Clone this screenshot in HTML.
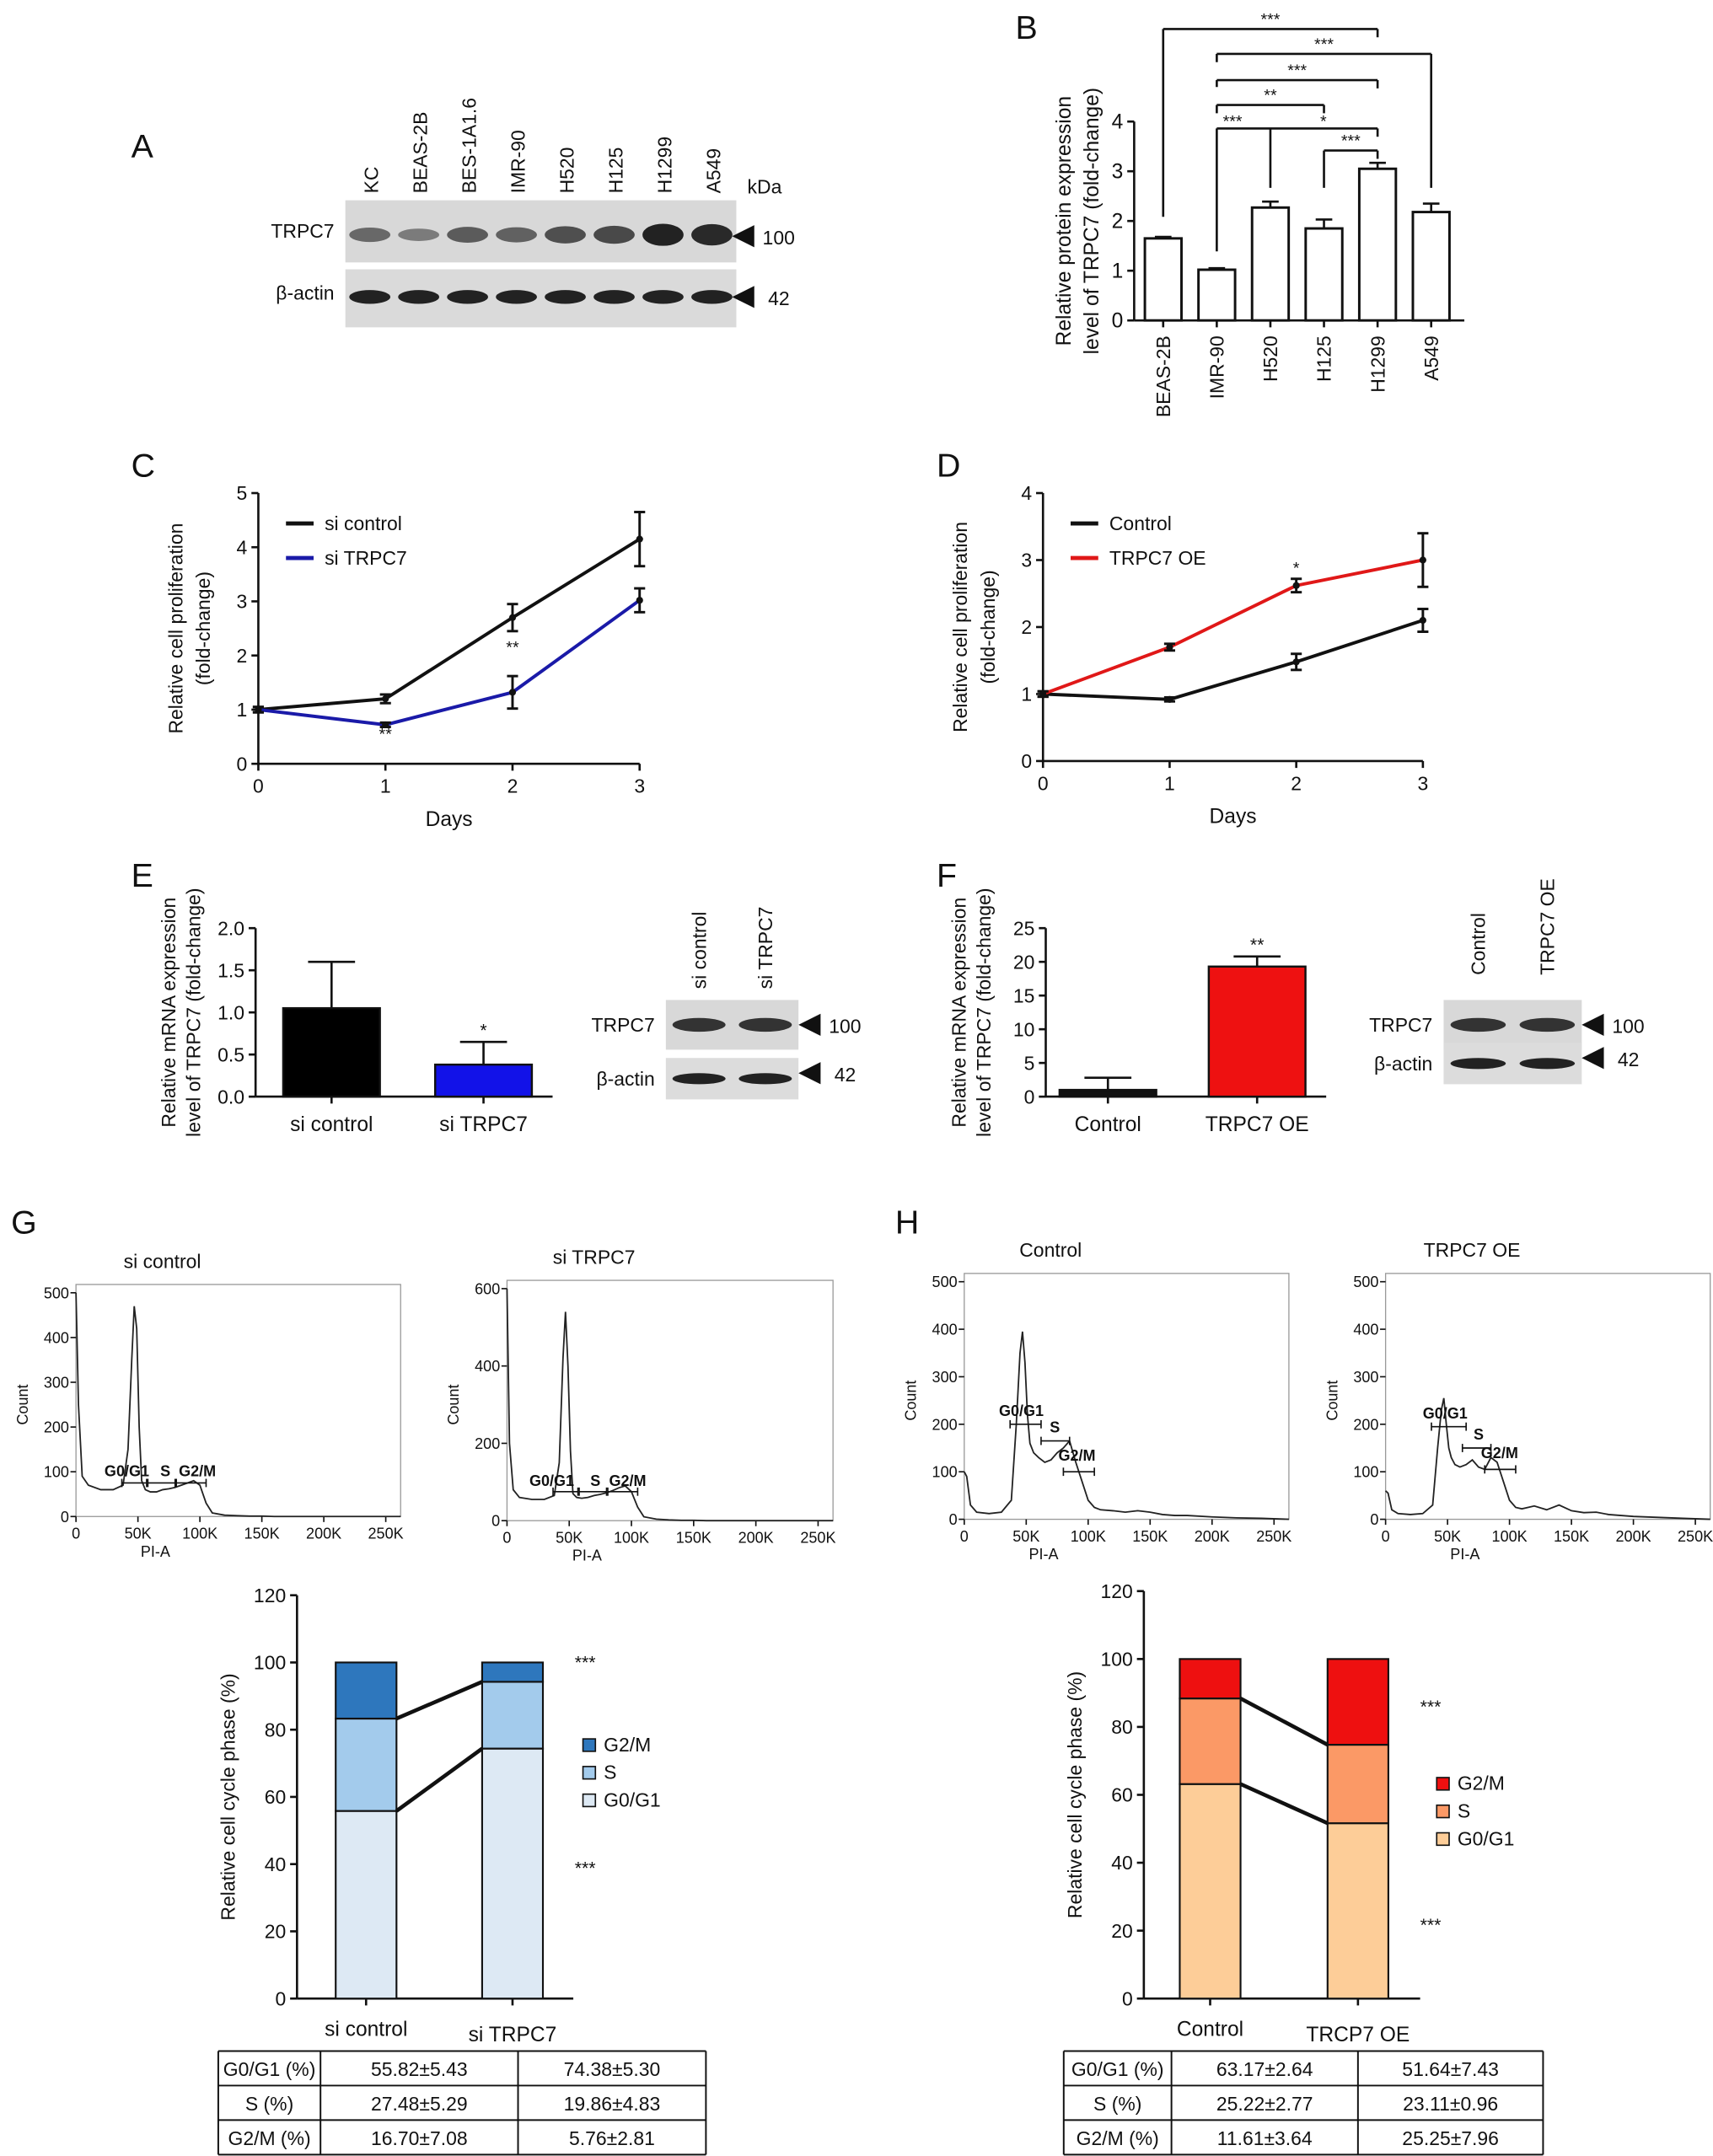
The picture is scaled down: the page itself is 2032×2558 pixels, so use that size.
<!DOCTYPE html>
<html><head><meta charset="utf-8"><style>
html,body{margin:0;padding:0;background:#fff}
svg{display:block;font-family:"Liberation Sans",sans-serif}
</style></head><body>
<svg id="fig" width="2032" height="2558" viewBox="0 0 1240 1561" xmlns="http://www.w3.org/2000/svg">
<rect width="1240" height="1561" fill="#fff"/>
<g font-size="24" fill="#111">
<text x="95" y="114">A</text>
<text x="735" y="28">B</text>
<text x="95" y="345">C</text>
<text x="678" y="345">D</text>
<text x="95" y="642">E</text>
<text x="678" y="642">F</text>
<text x="8" y="893">G</text>
<text x="648" y="893">H</text>
</g>
<g id="root"></g>
</svg>
<script>
// ---------- DATA ----------
const blotLanesA = ["KC","BEAS-2B","BES-1A1.6","IMR-90","H520","H125","H1299","A549"];
const blotIntensityA = [0.45,0.3,0.55,0.5,0.65,0.7,1.0,0.95];
const catsB = ["BEAS-2B","IMR-90","H520","H125","H1299","A549"];
const valsB = [1.65,1.02,2.27,1.85,3.05,2.18];
const errB = [0.03,0.03,0.12,0.18,0.12,0.17];
const ticksB = [0,1,2,3,4];
const daysC = [0,1,2,3];
const siControlC = [1.0,1.2,2.7,4.15];
const siControlErrC = [0.05,0.08,0.25,0.5];
const siTrpc7C = [1.0,0.72,1.32,3.02];
const siTrpc7ErrC = [0.05,0.04,0.3,0.22];
const ticksC = [0,1,2,3,4,5];
const controlD = [1.0,0.92,1.48,2.1];
const controlErrD = [0.04,0.03,0.12,0.17];
const oeD = [1.0,1.7,2.62,3.0];
const oeErrD = [0.04,0.05,0.1,0.4];
const ticksD = [0,1,2,3,4];
const catsE = ["si control","si TRPC7"];
const valsE = [1.05,0.38];
const errE = [0.55,0.27];
const ticksE = [0,0.5,1.0,1.5,2.0];
const catsF = ["Control","TRPC7 OE"];
const valsF = [1.0,19.3];
const errF = [1.8,1.5];
const ticksF = [0,5,10,15,20,25];
const histXTicks = ["0","50K","100K","150K","200K","250K"];
const histPIx = [0,2,5,10,20,30,38,42,45,47,49,51,53,56,60,65,70,75,80,85,90,95,100,105,110,120,130,140,150,160,170,180,200,220,240,262];
const histSiControl = [500,250,90,70,60,60,70,150,350,470,420,200,80,60,55,55,60,62,65,70,75,80,70,30,8,3,2,1,1,0,0,0,0,0,0,0];
const histSiTrpc7 = [600,200,80,60,55,55,65,150,420,540,400,180,70,60,58,60,65,68,72,78,85,90,75,35,10,4,2,1,1,0,0,0,0,0,0,0];
const histControl = [100,90,30,15,12,15,40,200,350,395,330,220,160,140,130,120,125,140,150,165,120,80,40,25,20,18,15,18,15,10,8,8,5,3,2,0];
const histOE = [60,55,20,12,10,12,30,150,230,255,200,150,130,115,110,115,125,110,105,130,120,80,40,25,22,28,20,30,18,14,15,10,6,4,2,0];
const ticksHistG1 = [0,100,200,300,400,500];
const ticksHistG2 = [0,200,400,600];
const ticksHistH = [0,100,200,300,400,500];
const phasesG = ["G0/G1","S","G2/M"];
const g0g1G = [55.82,74.38];
const sG = [27.48,19.86];
const g2mG = [16.70,5.76];
const catsG = ["si control","si TRPC7"];
const g0g1H = [63.17,51.64];
const sH = [25.22,23.11];
const g2mH = [11.61,25.25];
const catsH = ["Control","TRCP7 OE"];
const ticksStack = [0,20,40,60,80,100,120];
const tableG = [["G0/G1 (%)","55.82±5.43","74.38±5.30"],["S (%)","27.48±5.29","19.86±4.83"],["G2/M (%)","16.70±7.08","5.76±2.81"]];
const tableH = [["G0/G1 (%)","63.17±2.64","51.64±7.43"],["S (%)","25.22±2.77","23.11±0.96"],["G2/M (%)","11.61±3.64","25.25±7.96"]];

// ---------- HELPERS ----------
const NS="http://www.w3.org/2000/svg";
const root=document.getElementById('root');
function el(tag,attrs,parent,txt){const e=document.createElementNS(NS,tag);for(const k in attrs)e.setAttribute(k,attrs[k]);if(txt!==undefined)e.textContent=txt;(parent||root).appendChild(e);return e;}
function line(x1,y1,x2,y2,p,w,c){return el('line',{x1,y1,x2,y2,stroke:c||'#111','stroke-width':w||1.6},p);}
function txt(x,y,s,size,p,anchor,rot){const a={x,y,'font-size':size||13,fill:'#111','text-anchor':anchor||'middle'};if(rot)a.transform=`rotate(${rot} ${x} ${y})`;return el('text',a,p,s);}
function grp(name){const g=el('g',{});return g;}
function yAxis(g,x,y0,y1,ticks,sc,fmt,size){line(x,y0,x,y1,g);ticks.forEach(t=>{const y=sc(t);line(x-5,y,x,y,g);txt(x-8,y+5,fmt?fmt(t):String(t),size||14,g,'end');});}

// ---------- PANEL A ----------
(function(){
 const g=grp('blot-panel-a');
 const x0=250,x1=533,lw=(x1-x0)/blotLanesA.length;
 el('rect',{x:x0,y:145,width:x1-x0,height:45,fill:'#d8d8d8'},g);
 el('rect',{x:x0,y:195,width:x1-x0,height:42,fill:'#dadada'},g);
 blotLanesA.forEach((n,i)=>{const cx=x0+lw*(i+0.5);
  const t=txt(cx+6,140,n,14,g,'start',-90);
  const b=el('ellipse',{cx,cy:170,rx:lw*0.42,ry:3+5*blotIntensityA[i],fill:'#222','fill-opacity':0.3+0.7*blotIntensityA[i]},g);
  
  const a=el('ellipse',{cx,cy:215,rx:lw*0.42,ry:5,fill:'#222'},g);
  
 });
 txt(242,172,'TRPC7',14,g,'end');txt(242,217,'β-actin',14,g,'end');txt(541,140,'kDa',14,g,'start');
 el('polygon',{points:'530,171 546,163 546,179',fill:'#111'},g);txt(552,177,'100',14,g,'start');
 el('polygon',{points:'530,215 546,207 546,223',fill:'#111'},g);txt(556,221,'42',14,g,'start');
})();

// ---------- PANEL B ----------
(function(){
 const g=grp('bar-chart-b');
 const y=v=>232-v*36, xs=i=>842+i*38.8, w=26.5;
 yAxis(g,821,232,88,ticksB,y,null,15);line(821,232,1060,232,g);
 catsB.forEach((c,i)=>{const cx=xs(i);line(cx,232,cx,237,g);
  const t=txt(cx+5,243,c,14,g,'end',-90);
  const r=el('rect',{x:cx-w/2,y:y(valsB[i]),width:w,height:valsB[i]*36,fill:'#fff',stroke:'#111','stroke-width':1.8},g);
  
  line(cx,y(valsB[i]),cx,y(valsB[i]+errB[i]),g);line(cx-6,y(valsB[i]+errB[i]),cx+6,y(valsB[i]+errB[i]),g);
 });
 const br=(a,b,yy,ya,yb,s,sx)=>{line(xs(a),yy,xs(b),yy,g);line(xs(a),yy,xs(a),ya,g);line(xs(b),yy,xs(b),yb,g);txt(sx||(xs(a)+xs(b))/2,yy-3,s,12,g);};
 br(0,4,21,157,27,'***');br(1,5,39,45,136,'***');br(1,4,58,63,64,'***');br(1,3,76,82,82,'**');
 line(xs(1),93,xs(4),93,g);line(xs(1),93,xs(1),182,g);line(xs(2),93,xs(2),136,g);line(xs(4),93,xs(4),99,g);
 txt((xs(1)+xs(2))/2-8,92,'***',12,g);txt(958,92,'*',12,g);
 br(3,4,109,136,115,'***');
 txt(775,160,'Relative protein expression',15,g,'middle',-90);txt(795,160,'level of TRPC7 (fold-change)',15,g,'middle',-90);
})();

// ---------- LINE CHARTS ----------
function lineChart(name,x0,x1,yb,yt,ymax,ticks,series,legend,stars){
 const g=grp(name);
 const x=d=>x0+d*(x1-x0)/3, y=v=>yb-v*(yb-yt)/ymax;
 yAxis(g,x0,yb,yt,ticks,y,null,14);line(x0,yb,x1,yb,g);
 daysC.forEach(d=>{line(x(d),yb,x(d),yb+5,g);txt(x(d),yb+21,String(d),14,g);});
 txt((x0+x1)/2,yb+45,'Days',15,g);
 series.forEach(s=>{
  const p=el('polyline',{points:daysC.map((d,i)=>x(d)+','+y(s.v[i])).join(' '),fill:'none',stroke:s.c,'stroke-width':2.4},g);
  
  daysC.forEach((d,i)=>{const a=y(s.v[i]-s.e[i]),b=y(s.v[i]+s.e[i]);line(x(d),a,x(d),b,g,1.8);line(x(d)-4,a,x(d)+4,a,g,1.8);line(x(d)-4,b,x(d)+4,b,g,1.8);
   el('circle',{cx:x(d),cy:y(s.v[i]),r:2.5,fill:'#111'},g);});
 });
 legend.forEach((l,i)=>{line(x0+20,yt+22+i*25,x0+40,yt+22+i*25,g,3,l.c);txt(x0+48,yt+27+i*25,l.n,14,g,'start');});
 stars.forEach(s=>txt(x(s.d),y(s.v),s.s,12,g));
 txt(x0-55,(yb+yt)/2,'Relative cell proliferation',14,g,'middle',-90);txt(x0-35,(yb+yt)/2,'(fold-change)',14,g,'middle',-90);
}
lineChart('line-chart-c',187,463,553,357,5,ticksC,[{n:'line-si-control',c:'#111',v:siControlC,e:siControlErrC},{n:'line-si-trpc7',c:'#1a1aa8',v:siTrpc7C,e:siTrpc7ErrC}],[{n:'si control',c:'#111'},{n:'si TRPC7',c:'#1a1aa8'}],[{d:1,v:0.45,s:'**'},{d:2,v:2.05,s:'**'}]);
lineChart('line-chart-d',755,1030,551,357,4,ticksD,[{n:'line-control',c:'#111',v:controlD,e:controlErrD},{n:'line-trpc7-oe',c:'#e01818',v:oeD,e:oeErrD}],[{n:'Control',c:'#111'},{n:'TRPC7 OE',c:'#e01818'}],[{d:2,v:2.8,s:'*'}]);

// ---------- PANELS E/F ----------
function smallBar(name,ax,x1,cats,vals,errs,ticks,max,cols,centers,star,fmt){
 const g=grp(name);const yb=794,yt=672,y=v=>yb-v*(yb-yt)/max;
 yAxis(g,ax,yb,yt,ticks,y,fmt,14);line(ax,yb,x1,yb,g);
 cats.forEach((c,i)=>{const cx=centers[i];
  line(cx,y(vals[i]),cx,y(vals[i]+errs[i]),g);line(cx-17,y(vals[i]+errs[i]),cx+17,y(vals[i]+errs[i]),g);
  const r=el('rect',{x:cx-35,y:y(vals[i]),width:70,height:yb-y(vals[i]),fill:cols[i],stroke:'#111','stroke-width':1.5},g);
  
  line(cx,yb,cx,yb+5,g);txt(cx,yb+25,c,15,g);});
 txt(centers[1],y(vals[1]+errs[1])-4,star,13,g);
 txt(ax-58,733,'Relative mRNA expression',14,g,'middle',-90);txt(ax-40,733,'level of TRPC7 (fold-change)',14,g,'middle',-90);
}
smallBar('bar-chart-e',185,400,catsE,valsE,errE,ticksE,2,['#000','#1212e8'],[240,350],'*',t=>t.toFixed(1));
smallBar('bar-chart-f',757,960,catsF,valsF,errF,ticksF,25,['#111','#ee1111'],[802,910],'**');
function smallBlot(name,x0,x1,lab,y1,y2,labAnchor){
 const g=grp(name);
 el('rect',{x:x0,y:y1-18,width:x1-x0,height:36,fill:'#d8d8d8'},g);
 el('rect',{x:x0,y:y2-15,width:x1-x0,height:30,fill:'#dcdcdc'},g);
 const lw=(x1-x0)/2;
 [0,1].forEach(i=>{const cx=x0+lw*(i+0.5);
  const b=el('ellipse',{cx,cy:y1,rx:lw*0.4,ry:5,fill:'#333'},g);
  const a=el('ellipse',{cx,cy:y2,rx:lw*0.4,ry:4,fill:'#222'},g);
  txt(cx+5,labAnchor,lab[i],14,g,'start',-90);});
 txt(x0-8,y1+5,'TRPC7',14,g,'end');txt(x0-8,y2+5,'β-actin',14,g,'end');
 el('polygon',{points:`${x1},${y1} ${x1+16},${y1-8} ${x1+16},${y1+8}`,fill:'#111'},g);txt(x1+22,y1+6,'100',14,g,'start');
 el('polygon',{points:`${x1},${y2-4} ${x1+16},${y2-12} ${x1+16},${y2+4}`,fill:'#111'},g);txt(x1+26,y2+2,'42',14,g,'start');
}
smallBlot('blot-panel-e',482,578,['si control','si TRPC7'],742,781,716);
smallBlot('blot-panel-f',1045,1145,['Control','TRPC7 OE'],742,770,706);

// ---------- HISTOGRAMS ----------
function hist(name,x0,x1,yb,yt,ymax,ticks,data,title,gates){
 const g=grp(name);
 const x=v=>x0+v*(x1-x0)/262, y=v=>yb-Math.min(v,ymax)*(yb-yt)/ymax;
 el('rect',{x:x0,y:yt-6,width:x1-x0,height:yb-yt+6,fill:'none',stroke:'#999','stroke-width':0.8},g);
 ticks.forEach(t=>{line(x0-4,y(t),x0,y(t),g,1);txt(x0-5,y(t)+4,String(t),11,g,'end');});
 histXTicks.forEach((s,i)=>{const xx=x(i*50);line(xx,yb,xx,yb+4,g,1);txt(xx,yb+16,s,11,g);});
 txt((x0+x1)/2-60,yb+29,'PI-A',11,g);txt(x0-35,(yb+yt)/2,'Count',11,g,'middle',-90);
 txt((x0+x1)/2-55,yt-18,title,14,g);
 const p=el('polyline',{points:histPIx.map((v,i)=>x(v)+','+y(data[i])).join(' '),fill:'none',stroke:'#222','stroke-width':1.1},g);
 
 gates.forEach(gt=>{const yy=y(gt.h);line(x(gt.a),yy,x(gt.b),yy,g,1);line(x(gt.a),yy-3,x(gt.a),yy+3,g,1);line(x(gt.b),yy-3,x(gt.b),yy+3,g,1);
  const t=el('text',{x:x(gt.lx),y:yy+gt.ly,'font-size':11,'font-weight':'bold',fill:'#111'},g,gt.s);});
}
hist('histogram-si-control',55,290,1098,936,500,ticksHistG1,histSiControl,'si control',[{a:37,b:57,h:75,s:'G0/G1',lx:23,ly:-5},{a:58,b:80,h:75,s:'S',lx:68,ly:-5},{a:81,b:105,h:75,s:'G2/M',lx:83,ly:-5}]);
hist('histogram-si-trpc7',367,603,1101,933,600,ticksHistG2,histSiTrpc7,'si TRPC7',[{a:37,b:57,h:75,s:'G0/G1',lx:18,ly:-4},{a:58,b:80,h:75,s:'S',lx:67,ly:-4},{a:81,b:105,h:75,s:'G2/M',lx:82,ly:-4}]);
hist('histogram-control',698,933,1100,928,500,ticksHistH,histControl,'Control',[{a:37,b:62,h:200,s:'G0/G1',lx:28,ly:-6},{a:62,b:85,h:165,s:'S',lx:69,ly:-6},{a:80,b:105,h:100,s:'G2/M',lx:76,ly:-8}]);
hist('histogram-trpc7-oe',1003,1238,1100,928,500,ticksHistH,histOE,'TRPC7 OE',[{a:37,b:65,h:195,s:'G0/G1',lx:30,ly:-6},{a:62,b:85,h:150,s:'S',lx:71,ly:-6},{a:80,b:105,h:105,s:'G2/M',lx:77,ly:-8}]);

// ---------- STACKED BARS ----------
function stacked(name,ax,yb,yt,cats,a,b,c,cols,lx,ly,topStar,botStar,xs){
 const g=grp(name);const y=v=>yb-v*(yb-yt)/120;
 yAxis(g,ax,yb,yt,ticksStack,y,null,14);line(ax,yb,ax+200,yb,g);
 const w=44;
 cats.forEach((cn,i)=>{const cx=xs[i];let base=0;
  [[a[i],cols[0],'g0g1'],[b[i],cols[1],'s'],[c[i],cols[2],'g2m']].forEach(([v,col,nm])=>{
   const r=el('rect',{x:cx-w/2,y:y(base+v),width:w,height:y(base)-y(base+v),fill:col,stroke:'#111','stroke-width':1.3},g);
   base+=v;});
  line(cx,yb,cx,yb+5,g);txt(cx,yb+27+(i?4:0),cn,15,g);});
 line(xs[0]+w/2,y(a[0]),xs[1]-w/2,y(a[1]),g,2.8);
 line(xs[0]+w/2,y(a[0]+b[0]),xs[1]-w/2,y(a[1]+b[1]),g,2.8);
 txt(xs[1]+45,topStar,'***',13,g,'start');txt(xs[1]+45,botStar,'***',13,g,'start');
 [['G2/M',cols[2]],['S',cols[1]],['G0/G1',cols[0]]].forEach(([n,col],i)=>{
  const r=el('rect',{x:lx,y:ly+i*20-9,width:9,height:9,fill:col,stroke:'#111','stroke-width':1},g);
  
  txt(lx+15,ly+i*20,n,14,g,'start');});
 txt(ax-45,(yb+yt)/2,'Relative cell cycle phase (%)',14,g,'middle',-90);
}
stacked('stacked-bar-g',215,1447,1155,catsG,g0g1G,sG,g2mG,['#dde9f4','#a3cbec','#2e77bd'],422,1268,1208,1357,[265,371]);
stacked('stacked-bar-h',828,1447,1152,catsH,g0g1H,sH,g2mH,['#fdcd98','#fb9966','#ee1010'],1040,1296,1240,1398,[876,983]);

// ---------- TABLES ----------
function table(name,cols,y0,rows){
 const g=grp(name);const rh=25;
 rows.forEach((r,i)=>{r.forEach((c,j)=>{txt((cols[j]+cols[j+1])/2,y0+i*rh+18,c,14,g);});});
 for(let i=0;i<=3;i++)line(cols[0],y0+i*rh,cols[3],y0+i*rh,g,1.2);
 cols.forEach(x=>line(x,y0,x,y0+3*rh,g,1.2));
}
table('table-g',[158,232,375,511],1485,tableG);
table('table-h',[770,848,983,1117],1485,tableH);
</script>
</body></html>
